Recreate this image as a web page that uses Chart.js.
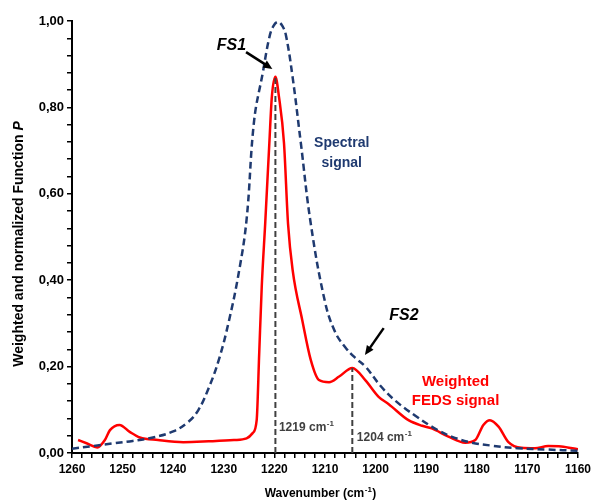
<!DOCTYPE html>
<html>
<head>
<meta charset="utf-8">
<script src="https://cdn.jsdelivr.net/npm/chart.js@4"></script>
<style>
  html, body { margin: 0; padding: 0; background: #fff; }
</style>
</head>
<body>
<canvas id="fedsChart" width="595" height="502"></canvas>
<script>
// Spectral signal (blue dashed), wavenumber in cm-1, descending
const spectralX = [1260, 1256, 1252, 1248, 1244, 1240, 1237, 1235, 1233, 1231, 1229, 1227, 1225.5, 1224, 1222.3, 1221, 1220.2, 1219.3,
  1218.4, 1217.7, 1216.4, 1214.8, 1212.8, 1210, 1208, 1206, 1204, 1202, 1199, 1196, 1192, 1188, 1185, 1181, 1177, 1172, 1166, 1160];
const spectralY = [0.010, 0.016, 0.022, 0.028, 0.036, 0.050, 0.072, 0.100, 0.150, 0.215, 0.305, 0.420, 0.54, 0.77, 0.88, 0.962, 0.988, 0.998,
  0.988, 0.966, 0.87, 0.72, 0.53, 0.35, 0.28, 0.245, 0.22, 0.20, 0.155, 0.12, 0.085, 0.055, 0.038, 0.024, 0.017, 0.011, 0.008, 0.005];

// Weighted FEDS signal (red)
const fedsX = [1258.8, 1257, 1255, 1253.5, 1252.5, 1250.6, 1248.6, 1246.6, 1243, 1238, 1233, 1228, 1225.5, 1224.3, 1223.5, 1223,
  1222.5, 1221.8, 1221, 1220.5, 1219.8, 1219.1, 1218.1, 1217.3, 1216.4, 1214.5, 1212.8, 1211.2, 1209.2, 1207.2, 1204.6, 1202,
  1199.4, 1197.4, 1193.5, 1190.8, 1188.9, 1185.6, 1182.3, 1180.3, 1178.7, 1177.4, 1175.7, 1173.8, 1171.2, 1168.5, 1165.9, 1163.3, 1160];
const fedsY = [0.030, 0.022, 0.013, 0.030, 0.053, 0.065, 0.049, 0.036, 0.030, 0.025, 0.027, 0.030, 0.034, 0.046, 0.076, 0.231,
  0.385, 0.535, 0.717, 0.825, 0.871, 0.825, 0.717, 0.53, 0.424, 0.308, 0.215, 0.169, 0.164, 0.177, 0.197, 0.168,
  0.130, 0.113, 0.076, 0.063, 0.057, 0.038, 0.024, 0.030, 0.065, 0.076, 0.061, 0.026, 0.012, 0.011, 0.016, 0.015, 0.0085];

// Marked peaks (FS1, FS2)
const peakX = [1219.8, 1204.6];
const peakY = [0.871, 0.197];

const NAVY = '#1f3a70';
const RED = '#ff0000';
const GREY = '#404040';
const FONT = '"Liberation Sans", Arial, sans-serif';

function toPoints(xs, ys) {
  return xs.map((x, i) => ({ x: x, y: ys[i] }));
}

// text notes, placed in data coordinates
const notes = [
  { lines: ['FS1'], x: 1228.5, y: 0.944, color: '#000', font: 'italic bold 16px ' + FONT },
  { lines: ['Spectral', 'signal'], x: 1206.7, y: 0.718, color: NAVY, font: 'bold 14px ' + FONT, gap: 20 },
  { lines: ['FS2'], x: 1194.4, y: 0.319, color: '#000', font: 'italic bold 16px ' + FONT },
  { lines: ['Weighted', 'FEDS signal'], x: 1184.2, y: 0.164, color: RED, font: 'bold 15px ' + FONT, gap: 19 }
];
const arrows = [
  { from: [1225.6, 0.928], to: [1220.4, 0.889] },
  { from: [1198.4, 0.289], to: [1202.1, 0.227] }
];
const peakNotes = [
  { base: '1219 cm', x: 1219.1, y: 0.058 },
  { base: '1204 cm', x: 1203.7, y: 0.035 }
];

function drawSup(ctx, x, y, base, sup, after, size, align) {
  ctx.font = 'bold ' + size + 'px ' + FONT;
  const w1 = ctx.measureText(base).width;
  const w3 = ctx.measureText(after).width;
  ctx.font = 'bold ' + Math.round(size * 0.65) + 'px ' + FONT;
  const w2 = ctx.measureText(sup).width;
  let sx = align === 'center' ? x - (w1 + w2 + w3) / 2 : x;
  ctx.textAlign = 'left';
  ctx.textBaseline = 'middle';
  ctx.font = 'bold ' + size + 'px ' + FONT;
  ctx.fillText(base, sx, y);
  ctx.font = 'bold ' + Math.round(size * 0.65) + 'px ' + FONT;
  ctx.fillText(sup, sx + w1 + 0.5, y - size * 0.35);
  ctx.font = 'bold ' + size + 'px ' + FONT;
  ctx.fillText(after, sx + w1 + w2 + 1, y);
}

const notesPlugin = {
  id: 'notes',
  afterDraw(chart) {
    const ctx = chart.ctx;
    const xs = chart.scales.x, ys = chart.scales.y;
    ctx.save();

    notes.forEach(n => {
      const px = xs.getPixelForValue(n.x), py = ys.getPixelForValue(n.y);
      ctx.font = n.font;
      ctx.fillStyle = n.color;
      ctx.textAlign = 'center';
      ctx.textBaseline = 'middle';
      n.lines.forEach((t, i) => ctx.fillText(t, px, py + i * (n.gap || 0)));
    });

    arrows.forEach(a => {
      const x1 = xs.getPixelForValue(a.from[0]), y1 = ys.getPixelForValue(a.from[1]);
      const x2 = xs.getPixelForValue(a.to[0]), y2 = ys.getPixelForValue(a.to[1]);
      const ang = Math.atan2(y2 - y1, x2 - x1);
      const head = 10;
      ctx.strokeStyle = '#000';
      ctx.fillStyle = '#000';
      ctx.lineWidth = 2.5;
      ctx.beginPath();
      ctx.moveTo(x1, y1);
      ctx.lineTo(x2 - Math.cos(ang) * head * 0.8, y2 - Math.sin(ang) * head * 0.8);
      ctx.stroke();
      ctx.beginPath();
      ctx.moveTo(x2, y2);
      ctx.lineTo(x2 - head * Math.cos(ang - 0.42), y2 - head * Math.sin(ang - 0.42));
      ctx.lineTo(x2 - head * Math.cos(ang + 0.42), y2 - head * Math.sin(ang + 0.42));
      ctx.closePath();
      ctx.fill();
    });

    ctx.fillStyle = GREY;
    peakNotes.forEach(p => {
      drawSup(ctx, xs.getPixelForValue(p.x), ys.getPixelForValue(p.y), p.base, '-1', '', 12, 'left');
    });

    // axis titles
    ctx.fillStyle = '#000';
    drawSup(ctx, 320, 494, 'Wavenumber (cm', '-1', ')', 12, 'center');

    ctx.translate(19, 244);
    ctx.rotate(-Math.PI / 2);
    const t1 = 'Weighted and normalized Function ';
    ctx.font = 'bold 14px ' + FONT;
    const w1 = ctx.measureText(t1).width;
    ctx.font = 'italic bold 14px ' + FONT;
    const w2 = ctx.measureText('P').width;
    ctx.textAlign = 'left';
    ctx.textBaseline = 'middle';
    ctx.font = 'bold 14px ' + FONT;
    ctx.fillText(t1, -(w1 + w2) / 2, 0);
    ctx.font = 'italic bold 14px ' + FONT;
    ctx.fillText('P', -(w1 + w2) / 2 + w1, 0);
    ctx.restore();
  }
};

const ctx = document.getElementById('fedsChart').getContext('2d');
new Chart(ctx, {
  type: 'line',
  data: {
    datasets: [
      {
        label: 'Spectral signal',
        data: toPoints(spectralX, spectralY),
        borderColor: NAVY,
        borderWidth: 2.5,
        borderDash: [7, 4],
        pointRadius: 0,
        tension: 0.4
      },
      {
        label: 'FS1',
        data: toPoints([peakX[0], peakX[0]], [0, peakY[0]]),
        borderColor: GREY,
        borderWidth: 2,
        borderDash: [6, 3],
        pointRadius: 0
      },
      {
        label: 'FS2',
        data: toPoints([peakX[1], peakX[1]], [0, peakY[1]]),
        borderColor: GREY,
        borderWidth: 2,
        borderDash: [6, 3],
        pointRadius: 0
      },
      {
        label: 'Weighted FEDS signal',
        data: toPoints(fedsX, fedsY),
        borderColor: RED,
        borderWidth: 2.5,
        pointRadius: 0,
        cubicInterpolationMode: 'monotone'
      }
    ]
  },
  options: {
    responsive: false,
    animation: false,
    devicePixelRatio: 1,
    layout: { padding: { top: 21, right: 15, left: 0, bottom: 0 } },
    plugins: { legend: { display: false }, tooltip: { enabled: false } },
    scales: {
      x: {
        type: 'linear',
        reverse: true,
        min: 1160,
        max: 1260,
        afterFit: s => { s.height = 49; },
        border: { color: '#000', width: 2 },
        grid: { drawOnChartArea: false, drawTicks: true, tickLength: 5, color: '#000', lineWidth: 1.5 },
        ticks: {
          stepSize: 2,
          autoSkip: false,
          maxRotation: 0,
          padding: 4,
          color: '#000',
          font: { family: FONT, size: 12, weight: 'bold' },
          callback: v => (Math.round(v) % 10 === 0 ? String(Math.round(v)) : '')
        }
      },
      y: {
        min: 0,
        max: 1,
        afterFit: s => { s.width = 72; },
        border: { color: '#000', width: 2 },
        grid: { drawOnChartArea: false, drawTicks: true, tickLength: 5, color: '#000', lineWidth: 1.5 },
        ticks: {
          stepSize: 0.04,
          autoSkip: false,
          padding: 3,
          color: '#000',
          font: { family: FONT, size: 13, weight: 'bold' },
          callback: v => (Math.abs(v * 5 - Math.round(v * 5)) < 1e-6 ? v.toFixed(2).replace('.', ',') : '')
        }
      }
    }
  },
  plugins: [notesPlugin]
});
</script>
</body>
</html>
